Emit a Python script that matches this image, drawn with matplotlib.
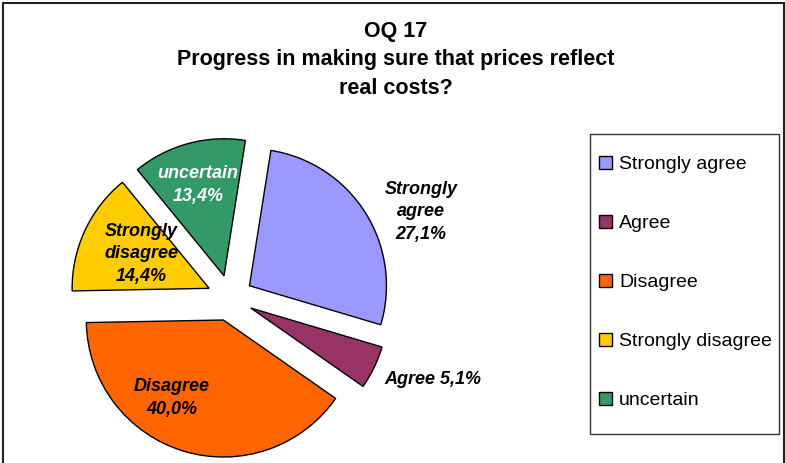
import numpy as np
import matplotlib.pyplot as plt
from matplotlib.patches import Rectangle

plt.rcParams['font.family'] = ['Liberation Sans', 'DejaVu Sans']

# data
categories = ["Strongly agree", "Agree", "Disagree", "Strongly disagree", "uncertain"]
shares = [27.1, 5.1, 40.0, 14.4, 13.4]
colors = ["#9999FF", "#993366", "#FF6600", "#FFCC00", "#339966"]
slice_labels = ["Strongly\nagree\n27,1%", "Agree 5,1%", "Disagree\n40,0%",
                "Strongly\ndisagree\n14,4%", "uncertain\n13,4%"]
title_lines = ["OQ 17", "Progress in making sure that prices reflect", "real costs?"]

W, H = 785, 463


def py(y):
    # image pixel row -> data y
    return H - y


fig = plt.figure(figsize=(W / 100, H / 100), dpi=100)
ax = fig.add_axes([0, 0, 1, 1])

wedges, _ = ax.pie(shares, colors=colors, startangle=81, counterclock=False,
                   explode=[23] * 5, radius=137, center=(230, py(298)),
                   wedgeprops=dict(edgecolor="black", linewidth=1.0))
ax.set_xlim(0, W)
ax.set_ylim(0, H)
ax.set_aspect("equal")
ax.axis("off")

# slice labels (Excel-style placement)
label_pos = [(421, 212), (433, 380), (172, 398), (141, 254), (198, 185)]
label_col = ["black", "black", "black", "black", "white"]
for txt, (x, y), c in zip(slice_labels, label_pos, label_col):
    ax.text(x, py(y), txt, ha="center", va="center", fontsize=13,
            fontweight="bold", fontstyle="italic", color=c, linespacing=1.45)

# title
for txt, y in zip(title_lines, [31, 60, 89]):
    ax.text(396, py(y), txt, ha="center", va="center", fontsize=15.5,
            fontweight="bold")

# legend box
ax.add_patch(Rectangle((590, py(434)), 189, 300, fill=False,
                       edgecolor="#333333", linewidth=1.0))
ax.legend(wedges, categories, loc="upper left", bbox_to_anchor=(599, py(156)),
          bbox_transform=ax.transData, frameon=False, fontsize=14,
          handlelength=0.65, handleheight=0.65, handletextpad=0.38,
          labelspacing=2.14, borderpad=0, borderaxespad=0)

# outer chart border
ax.add_patch(Rectangle((3, py(470)), 781, 467, fill=False,
                       edgecolor="#222222", linewidth=1.5, clip_on=False))

fig.savefig("out.png", dpi=100)
